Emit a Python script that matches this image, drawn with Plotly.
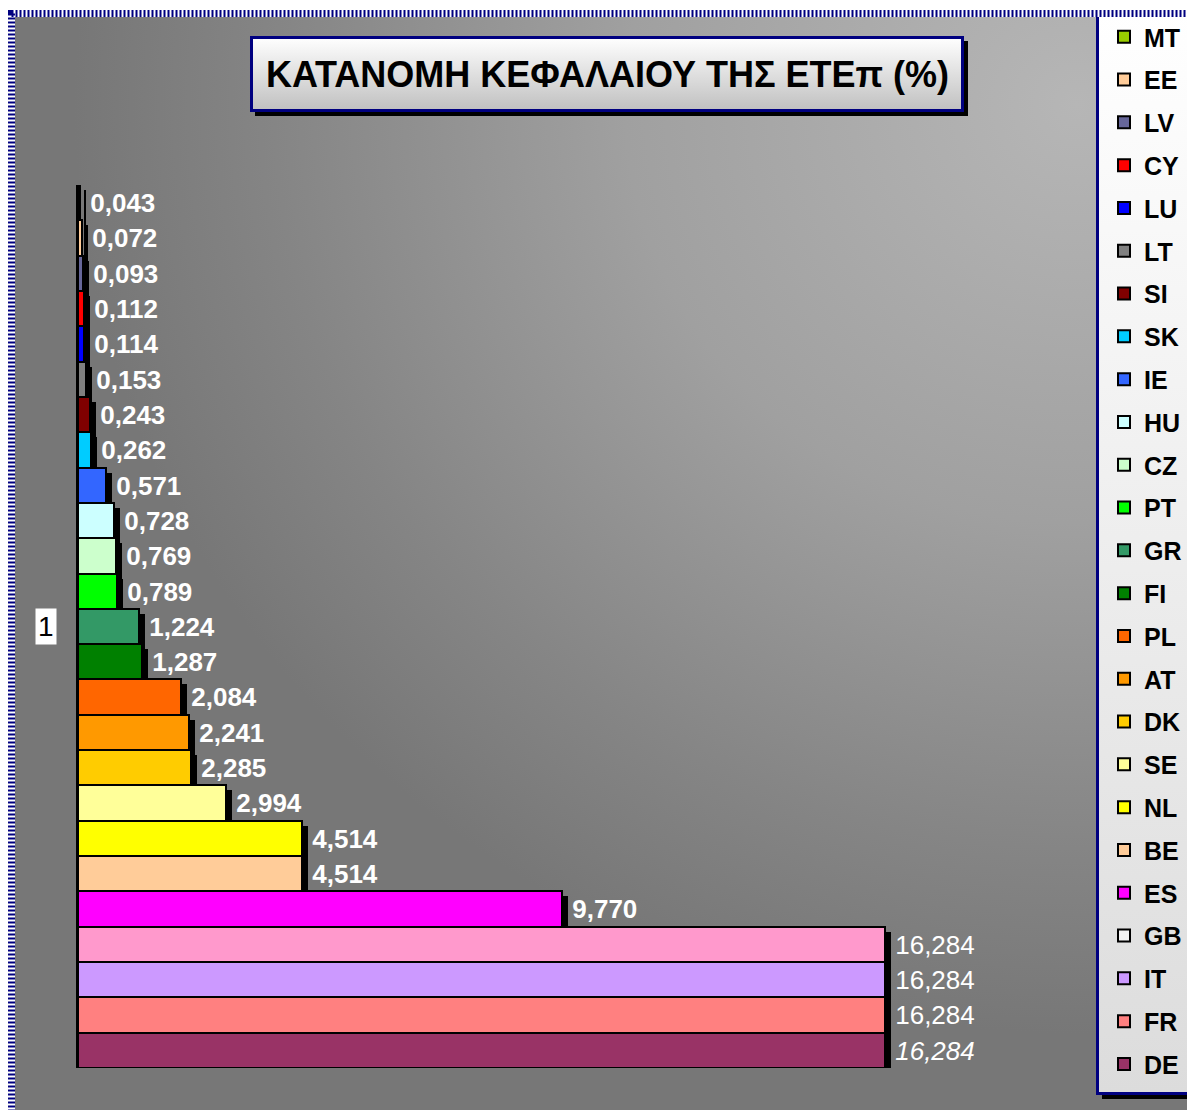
import base64
import plotly.graph_objects as go

# capital shares (%) - top to bottom as in the chart
countries = ["MT", "EE", "LV", "CY", "LU", "LT", "SI", "SK", "IE", "HU", "CZ", "PT", "GR",
             "FI", "PL", "AT", "DK", "SE", "NL", "BE", "ES", "GB", "IT", "FR", "DE"]
shares = [0.043, 0.072, 0.093, 0.112, 0.114, 0.153, 0.243, 0.262, 0.571, 0.728, 0.769, 0.789,
          1.224, 1.287, 2.084, 2.241, 2.285, 2.994, 4.514, 4.514, 9.770, 16.284, 16.284,
          16.284, 16.284]
colors = ["#99CC00", "#FFCC99", "#666699", "#FF0000", "#0000FF", "#808080", "#800000",
          "#00CCFF", "#3366FF", "#CCFFFF", "#CCFFCC", "#00FF00", "#339966", "#008000",
          "#FF6600", "#FF9900", "#FFCC00", "#FFFF99", "#FFFF00", "#FFCC99", "#FF00FF",
          "#FF99CC", "#CC99FF", "#FF8080", "#993366"]
category = "1"
title = "ΚΑΤΑΝΟΜΗ ΚΕΦΑΛΑΙΟΥ ΤΗΣ ΕΤΕπ (%)"

# label fonts that differ from the bold default
label_weight = {"GB": "normal", "IT": "normal", "FR": "normal", "DE": "normal"}
label_style = {"DE": "italic"}

W, H = 1195, 1110
OX, OY = 8, 8   # page body margin
FONT = "Arial, Liberation Sans, sans-serif"


def px(x):
    return (x - OX) / W


def py(y):
    return 1 - (y - OY) / H


def svg_uri(svg):
    return "data:image/svg+xml;base64," + base64.b64encode(svg.encode()).decode()


def vgrad(top, bottom):
    return svg_uri('<svg xmlns="http://www.w3.org/2000/svg" width="100" height="100" preserveAspectRatio="none">'
                   '<defs><linearGradient id="g" x1="0" y1="0" x2="0" y2="1">'
                   f'<stop offset="0" stop-color="{top}"/><stop offset="1" stop-color="{bottom}"/>'
                   '</linearGradient></defs><rect width="100" height="100" fill="url(#g)"/></svg>')


bg_svg = ('<svg xmlns="http://www.w3.org/2000/svg" width="1180" height="1093" preserveAspectRatio="none">'
          '<defs><radialGradient id="g" cx="0.9" cy="0.08" r="0.85">'
          '<stop offset="0" stop-color="#b6b6b6"/><stop offset="0.45" stop-color="#a0a0a0"/>'
          '<stop offset="0.8" stop-color="#858585"/><stop offset="1" stop-color="#777777"/>'
          '</radialGradient></defs><rect width="1180" height="1093" fill="url(#g)"/></svg>')

XMAX = 18
x_px_per_unit = (885 - 78) / 16.284
shift_x = 6 / x_px_per_unit
shift_y = 5 / (1068 - 185)

fig = go.Figure()

# bottom bar first so it sits at the bottom of the group
for rank, (name, val, col) in reversed(list(enumerate(zip(countries, shares, colors), start=1))):
    # drop shadow
    fig.add_trace(go.Bar(
        x=[val], y=[category], orientation="h", xaxis="x", yaxis="y",
        marker=dict(color="black", line=dict(width=0)),
        showlegend=False, legendgroup=name, hoverinfo="skip"))
    lbl = f"{val:.3f}".replace(".", ",")
    fig.add_trace(go.Bar(
        x=[val], y=[category], orientation="h", xaxis="x2", yaxis="y2", name=name,
        marker=dict(color=col, line=dict(color="black", width=2)),
        text=[lbl], texttemplate="\u00a0%{text}", textposition="outside",
        constraintext="none", cliponaxis=False,
        textfont=dict(family=FONT, size=26, color="white",
                      weight=label_weight.get(name, "bold"),
                      style=label_style.get(name, "normal")),
        legendgroup=name, legendrank=rank, showlegend=(name != "GB")))
    if name == "GB":
        # legend key for GB is white in the original
        fig.add_trace(go.Bar(
            x=[None], y=[category], orientation="h", xaxis="x3", yaxis="y3", name=name,
            marker=dict(color="#F4F4F4", line=dict(color="black", width=2)),
            legendgroup=name, legendrank=rank, showlegend=True, hoverinfo="skip"))

shapes = [
    # title shadow
    dict(type="rect", xref="paper", yref="paper", x0=px(255), x1=px(968), y0=py(41), y1=py(116),
         fillcolor="black", line=dict(width=0), layer="below"),
    # legend shadow
    dict(type="rect", xref="paper", yref="paper", x0=px(1102), x1=px(1210), y0=py(20), y1=py(1099),
         fillcolor="black", line=dict(width=0), layer="below"),
    # title border
    dict(type="rect", xref="paper", yref="paper", x0=px(251.5), x1=px(962.5), y0=py(37.5), y1=py(110.5),
         line=dict(color="#000080", width=3), layer="above"),
    # legend border
    dict(type="rect", xref="paper", yref="paper", x0=px(1097.5), x1=px(1205), y0=py(12), y1=py(1093.5),
         line=dict(color="#000080", width=3), layer="above"),
    # dotted chart frame
    dict(type="rect", xref="paper", yref="paper", x0=px(11.5), x1=px(1215), y0=py(13.5), y1=py(1125),
         line=dict(color="white", width=7), layer="above"),
    dict(type="rect", xref="paper", yref="paper", x0=px(11.5), x1=px(1215), y0=py(13.5), y1=py(1125),
         line=dict(color="#000080", width=7, dash="2px,2px"), layer="above"),
]

images = [
    dict(source=svg_uri(bg_svg), xref="paper", yref="paper", x=px(15), y=py(17),
         sizex=1180 / W, sizey=1093 / H, xanchor="left", yanchor="top", sizing="stretch", layer="below"),
    dict(source=vgrad("#ffffff", "#c0c0c0"), xref="paper", yref="paper", x=px(251.5), y=py(37.5),
         sizex=711 / W, sizey=73 / H, xanchor="left", yanchor="top", sizing="stretch", layer="above"),
    dict(source=vgrad("#ffffff", "#dcdcdc"), xref="paper", yref="paper", x=px(1097.5), y=py(12),
         sizex=110 / W, sizey=1081.5 / H, xanchor="left", yanchor="top", sizing="stretch", layer="above"),
]

annotations = [
    dict(text=title, xref="paper", yref="paper", x=px(607), y=py(74), xanchor="center", yanchor="middle",
         showarrow=False, font=dict(family=FONT, size=36, color="black", weight="bold")),
    dict(text=category, xref="paper", yref="y2", x=px(46), y=0, xanchor="center", yanchor="middle",
         showarrow=False, bgcolor="white", borderpad=2,
         font=dict(family=FONT, size=28, color="black")),
]

fig.update_layout(
    width=W, height=H,
    margin=dict(l=0, r=0, t=0, b=0),
    paper_bgcolor="white", plot_bgcolor="rgba(0,0,0,0)",
    barmode="group", bargap=0, bargroupgap=0,
    xaxis=dict(domain=[px(78), px(78 + XMAX * x_px_per_unit)], range=[-shift_x, XMAX - shift_x], visible=False),
    yaxis=dict(domain=[py(1068), py(185)], range=[-0.5 + shift_y, 0.5 + shift_y], type="category", visible=False),
    xaxis2=dict(overlaying="x", anchor="y2", range=[0, XMAX], visible=False),
    yaxis2=dict(overlaying="y", anchor="x2", range=[-0.5, 0.5], type="category",
                showline=True, linecolor="black", linewidth=2, showticklabels=False,
                ticks="", showgrid=False, zeroline=False),
    xaxis3=dict(overlaying="x", anchor="y3", visible=False),
    yaxis3=dict(overlaying="y", anchor="x3", visible=False),
    showlegend=True,
    legend=dict(x=px(1104), y=py(14), xanchor="left", yanchor="top",
                bgcolor="rgba(0,0,0,0)", borderwidth=0,
                traceorder="grouped", tracegroupgap=7.3,
                font=dict(family=FONT, size=25, color="black", weight="bold")),
    shapes=shapes, images=images, annotations=annotations,
    hovermode=False,
)

fig.write_html("out.html")
